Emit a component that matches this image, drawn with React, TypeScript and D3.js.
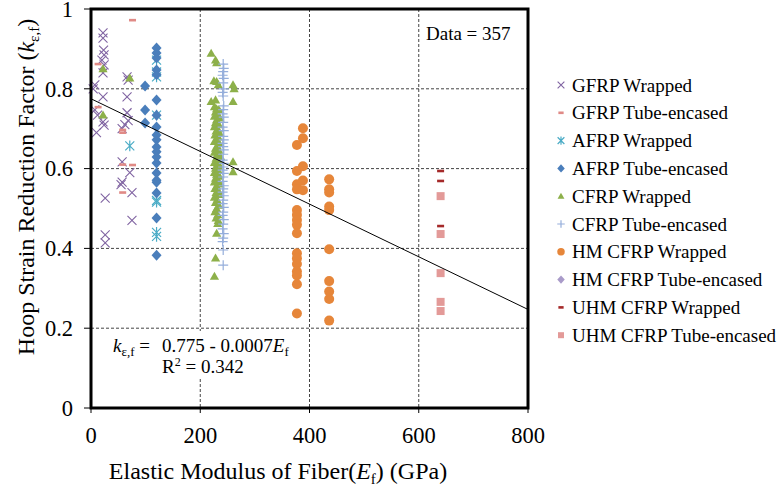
import React from 'react';
import * as d3 from 'd3';

const W = 781;
const H = 490;
const plot = { left: 91, right: 528, top: 9, bottom: 408 };

const xTicks = [0, 200, 400, 600, 800];
const yTicks = [0, 0.2, 0.4, 0.6, 0.8, 1];

type Pt = [number, number];

// [E_f (GPa), k_ε,f]
const gfrpWrapped: Pt[] = [
  [22, 0.94], [22, 0.927], [23, 0.897], [24, 0.885], [20, 0.872], [24, 0.86], [22, 0.84],
  [7, 0.81], [4, 0.8], [22, 0.78], [7, 0.747], [12, 0.734], [22, 0.717], [24, 0.709], [10, 0.69],
  [66, 0.83], [68, 0.822], [66, 0.78], [66, 0.74], [68, 0.72], [62, 0.71], [57, 0.7],
  [57, 0.617], [71, 0.59], [57, 0.566], [55, 0.56], [75, 0.54], [26, 0.526], [75, 0.47],
  [26, 0.434], [26, 0.414],
];
const gfrpTube: Pt[] = [
  [76, 0.972], [13, 0.862], [13, 0.754], [58, 0.697], [58, 0.69], [58, 0.61], [76, 0.609], [58, 0.54],
];
const afrpWrapped: Pt[] = [
  [71, 0.657], [120, 0.872], [120, 0.842], [120, 0.83], [120, 0.734], [120, 0.52], [120, 0.516],
  [120, 0.44], [120, 0.43],
];
const afrpTube: Pt[] = [
  [120, 0.902], [120, 0.89], [120, 0.877], [120, 0.847], [120, 0.835], [120, 0.772], [120, 0.734],
  [120, 0.704], [120, 0.684], [120, 0.672], [120, 0.654], [120, 0.642], [120, 0.629], [120, 0.614],
  [120, 0.589], [120, 0.571], [120, 0.566], [120, 0.539], [120, 0.476], [120, 0.383],
  [99, 0.807], [99, 0.747], [99, 0.714],
];
const cfrpWrapped: Pt[] = [
  [220, 0.889], [228, 0.872], [230, 0.865], [225, 0.82], [230, 0.818], [233, 0.81], [260, 0.81],
  [262, 0.8], [220, 0.768], [228, 0.772], [260, 0.768],
  [226, 0.755], [230, 0.75], [234, 0.748], [228, 0.742], [232, 0.736], [226, 0.731], [236, 0.727],
  [230, 0.722], [228, 0.715], [234, 0.71], [226, 0.705], [232, 0.699], [229, 0.694], [236, 0.688],
  [227, 0.684], [233, 0.679], [230, 0.672], [226, 0.668], [235, 0.663], [231, 0.657], [228, 0.651],
  [234, 0.646], [226, 0.641], [231, 0.636], [237, 0.63], [229, 0.626], [233, 0.62], [226, 0.615],
  [231, 0.611], [236, 0.606], [228, 0.601], [233, 0.596], [226, 0.59], [230, 0.586], [235, 0.581],
  [228, 0.576], [232, 0.571], [226, 0.566], [236, 0.561], [230, 0.556], [227, 0.55], [233, 0.545],
  [229, 0.54], [235, 0.535], [226, 0.528], [231, 0.522], [228, 0.515], [234, 0.508], [230, 0.5],
  [227, 0.492], [232, 0.484], [229, 0.476], [233, 0.47],
  [260, 0.617], [260, 0.592], [232, 0.462], [230, 0.438], [228, 0.376], [226, 0.33],
  [71, 0.827], [22, 0.85], [22, 0.734],
];
const cfrpTube: Pt[] = [
  [242, 0.862], [243, 0.851], [242, 0.843], [241, 0.834], [243, 0.826], [242, 0.815], [243, 0.8],
  [241, 0.791], [242, 0.782], [243, 0.757], [242, 0.748], [241, 0.737], [243, 0.729], [242, 0.716],
  [241, 0.704], [243, 0.695], [242, 0.681], [243, 0.672], [241, 0.663], [242, 0.655], [243, 0.647],
  [242, 0.636], [241, 0.621], [243, 0.613], [242, 0.604], [241, 0.596], [243, 0.588], [242, 0.579],
  [241, 0.568], [243, 0.557], [242, 0.549], [241, 0.541], [243, 0.532], [242, 0.521], [241, 0.512],
  [243, 0.503], [242, 0.491], [241, 0.483], [243, 0.472], [242, 0.461], [241, 0.449], [243, 0.437],
  [242, 0.426], [241, 0.417], [242, 0.396], [242, 0.358],
];
const hmWrapped: Pt[] = [
  [377, 0.659], [388, 0.701], [388, 0.676], [377, 0.594], [388, 0.606], [388, 0.57], [377, 0.561],
  [377, 0.548], [388, 0.546], [377, 0.496], [377, 0.484], [377, 0.471], [377, 0.459], [377, 0.438],
  [377, 0.388], [377, 0.375], [377, 0.361], [377, 0.342], [377, 0.332], [377, 0.31], [377, 0.237],
  [436, 0.573], [436, 0.548], [436, 0.54], [436, 0.505], [436, 0.496], [436, 0.398], [436, 0.318],
  [436, 0.292], [436, 0.273], [436, 0.219],
];
const hmTube: Pt[] = [];
const uhmWrapped: Pt[] = [[640, 0.594], [640, 0.569], [640, 0.456]];
const uhmTube: Pt[] = [[640, 0.531], [640, 0.436], [640, 0.338], [640, 0.266], [640, 0.243]];

const trendIntercept = 0.775;
const trendSlope = -0.00066;
const rSquared = 0.342;
const dataCount = 357;

type Shape = 'x' | 'dash' | 'star' | 'diamond' | 'triangle' | 'plus' | 'circle' | 'square';

const series: { name: string; data: Pt[]; color: string; shape: Shape }[] = [
  { name: 'GFRP Wrapped', data: gfrpWrapped, color: '#8064A2', shape: 'x' },
  { name: 'GFRP Tube-encased', data: gfrpTube, color: '#E08A86', shape: 'dash' },
  { name: 'AFRP Wrapped', data: afrpWrapped, color: '#4BACC6', shape: 'star' },
  { name: 'AFRP Tube-encased', data: afrpTube, color: '#4A7EBB', shape: 'diamond' },
  { name: 'CFRP Wrapped', data: cfrpWrapped, color: '#8DB04A', shape: 'triangle' },
  { name: 'CFRP Tube-encased', data: cfrpTube, color: '#95AEDB', shape: 'plus' },
  { name: 'HM CFRP Wrapped', data: hmWrapped, color: '#E6863A', shape: 'circle' },
  { name: 'HM CFRP Tube-encased', data: hmTube, color: '#A99BC9', shape: 'diamond' },
  { name: 'UHM CFRP Wrapped', data: uhmWrapped, color: '#A52A2A', shape: 'dash' },
  { name: 'UHM CFRP Tube-encased', data: uhmTube, color: '#E39A98', shape: 'square' },
];

function Marker({ x, y, shape, color, s = 1 }: { x: number; y: number; shape: Shape; color: string; s?: number }) {
  switch (shape) {
    case 'x': {
      const r = 4.5 * s;
      return (
        <path d={`M${x - r},${y - r}L${x + r},${y + r}M${x - r},${y + r}L${x + r},${y - r}`} stroke={color} strokeWidth={1.1} fill="none" />
      );
    }
    case 'plus': {
      const r = 5 * s;
      return <path d={`M${x - r},${y}L${x + r},${y}M${x},${y - r}L${x},${y + r}`} stroke={color} strokeWidth={1.2} fill="none" />;
    }
    case 'star': {
      const r = 4.5 * s;
      return (
        <path
          d={`M${x - r},${y - r}L${x + r},${y + r}M${x - r},${y + r}L${x + r},${y - r}M${x},${y - r * 1.2}L${x},${y + r * 1.2}`}
          stroke={color}
          strokeWidth={1.2}
          fill="none"
        />
      );
    }
    case 'dash':
      return <rect x={x - 3.5 * s} y={y - 1.3} width={7 * s} height={2.6} fill={color} />;
    case 'diamond': {
      const r = 5 * s;
      return <path d={`M${x},${y - r * 1.1}L${x + r},${y}L${x},${y + r * 1.1}L${x - r},${y}Z`} fill={color} />;
    }
    case 'triangle': {
      const r = 4.6 * s;
      return <path d={`M${x},${y - r}L${x + r},${y + r * 0.75}L${x - r},${y + r * 0.75}Z`} fill={color} />;
    }
    case 'circle':
      return <circle cx={x} cy={y} r={5 * s} fill={color} />;
    case 'square': {
      const r = 4 * s;
      return <rect x={x - r} y={y - r} width={2 * r} height={2 * r} fill={color} />;
    }
  }
  return null;
}

export default function App() {
  const x = d3.scaleLinear().domain([0, 800]).range([plot.left, plot.right]);
  const y = d3.scaleLinear().domain([0, 1]).range([plot.bottom, plot.top]);
  const font = '"Liberation Serif", "Times New Roman", serif';
  const trend = d3
    .line<number>()
    .x((e) => x(e))
    .y((e) => y(trendIntercept + trendSlope * e));
  const slopeText = Math.abs(trendSlope).toFixed(4);

  const legendX = 561;
  const legendY0 = 85;
  const legendStep = 27.8;

  return (
    <svg width={W} height={H} style={{ position: 'absolute', left: 0, top: 0, background: '#fff' }} fontFamily={font}>
      <rect width={W} height={H} fill="#fff" />
      {/* grid */}
      {yTicks
        .filter((t) => t > 0 && t < 1)
        .map((t) => (
          <line key={`gy${t}`} x1={plot.left} x2={plot.right} y1={y(t)} y2={y(t)} stroke="#444" strokeWidth={1} strokeDasharray="3,2" />
        ))}
      {xTicks
        .filter((t) => t > 0 && t < 800)
        .map((t) => (
          <line key={`gx${t}`} x1={x(t)} x2={x(t)} y1={plot.top} y2={plot.bottom} stroke="#444" strokeWidth={1} strokeDasharray="3,2" />
        ))}
      {/* equation box */}
      <rect x={105} y={331} width={195} height={47} fill="#fff" />
      {/* points */}
      {series.map((sr) =>
        sr.data.map((d, i) => <Marker key={`${sr.name}${i}`} x={x(d[0])} y={y(d[1])} shape={sr.shape} color={sr.color} />)
      )}
      {/* trend line */}
      <path d={trend([0, 800]) || ''} stroke="#000" strokeWidth={1} fill="none" />
      {/* frame */}
      <rect x={plot.left} y={plot.top} width={plot.right - plot.left} height={plot.bottom - plot.top} fill="none" stroke="#000" strokeWidth={3} />
      {/* ticks */}
      {yTicks.map((t) => (
        <g key={`ty${t}`}>
          <line x1={plot.left - 7} x2={plot.left} y1={y(t)} y2={y(t)} stroke="#000" strokeWidth={1} />
          <text x={73} y={y(t)} dy="0.35em" textAnchor="end" fontSize={22.5}>
            {d3.format('')(t)}
          </text>
        </g>
      ))}
      {xTicks.map((t) => (
        <g key={`tx${t}`}>
          <line x1={x(t)} x2={x(t)} y1={plot.bottom} y2={plot.bottom + 5} stroke="#000" strokeWidth={1} />
          <text x={x(t)} y={443} textAnchor="middle" fontSize={22.5}>
            {t}
          </text>
        </g>
      ))}
      {/* axis titles */}
      <text x={278} y={479} textAnchor="middle" fontSize={24}>
        Elastic Modulus of Fiber(<tspan fontStyle="italic">E</tspan>
        <tspan fontSize={15} dy={5}>f</tspan>
        <tspan dy={-5}>) (GPa)</tspan>
      </text>
      <text transform={`translate(34,187) rotate(-90)`} textAnchor="middle" fontSize={24}>
        Hoop Strain Reduction Factor (<tspan fontStyle="italic">k</tspan>
        <tspan fontSize={15} dy={5}>ε,f</tspan>
        <tspan dy={-5}>)</tspan>
      </text>
      {/* annotations */}
      <text x={426} y={40} fontSize={19}>
        Data = {dataCount}
      </text>
      <text x={113} y={352} fontSize={19}>
        <tspan fontStyle="italic">k</tspan>
        <tspan fontSize={13} dy={4}>ε,f</tspan>
        <tspan dy={-4}> = </tspan>
      </text>
      <text x={162} y={352} fontSize={19}>
        {trendIntercept.toFixed(3)} - {slopeText}
        <tspan fontStyle="italic">E</tspan>
        <tspan fontSize={13} dy={4}>f</tspan>
      </text>
      <text x={162} y={373} fontSize={19}>
        R<tspan fontSize={12} dy={-7}>2</tspan>
        <tspan dy={7}> = {rSquared.toFixed(3)}</tspan>
      </text>
      {/* legend */}
      {series.map((sr, i) => {
        const ly = legendY0 + i * legendStep;
        return (
          <g key={`lg${sr.name}`}>
            <Marker x={legendX} y={ly} shape={sr.shape} color={sr.color} s={0.75} />
            <text x={572} y={ly} dy="0.35em" fontSize={19}>
              {sr.name}
            </text>
          </g>
        );
      })}
    </svg>
  );
}
